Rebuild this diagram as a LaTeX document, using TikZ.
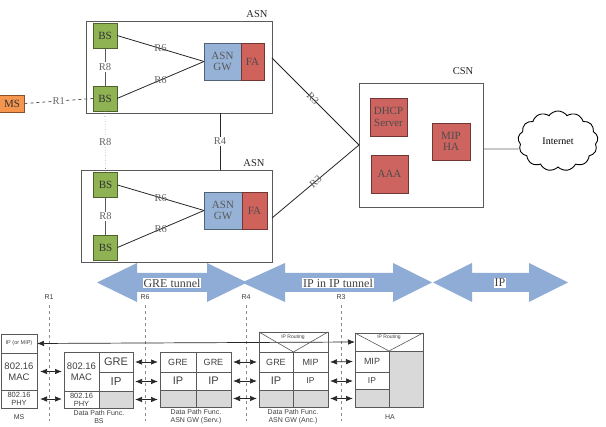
\documentclass[tikz,border=0pt]{standalone}
\usepackage{fontspec}
\setmainfont{Liberation Serif}
\newfontfamily\arialf{Liberation Sans}
\usetikzlibrary{shapes.symbols,arrows.meta,calc}
\definecolor{bsg}{RGB}{143,178,82}
\definecolor{gwb}{RGB}{150,178,214}
\definecolor{far}{RGB}{208,98,92}
\definecolor{mso}{RGB}{246,150,78}
\definecolor{csr}{RGB}{205,100,95}
\definecolor{arrb}{RGB}{143,172,214}
\definecolor{cellg}{RGB}{217,217,217}
\begin{document}
\begin{tikzpicture}[x=1pt,y=-1pt,
  every node/.style={inner sep=0pt, outer sep=0pt},
  box/.style={draw=#1!55!black, fill=#1, line width=0.7pt, align=center,
     font=\fontsize{11}{11.5}\selectfont, text=black!80},
  asnbox/.style={draw=black!65, line width=0.8pt, anchor=north west},
  conn/.style={line width=0.8pt, draw=black!85},
  lbl/.style={font=\fontsize{10.5}{11}\selectfont, text=black!60},
  wlbl/.style={lbl, fill=white, inner sep=1pt},
  cell/.style={draw=black!65, line width=0.6pt, anchor=north west, align=center,
     font=\arialf\fontsize{9}{10}\selectfont, text=black!75},
  gcell/.style={cell, fill=cellg},
  sl/.style={font=\arialf\fontsize{7}{8}\selectfont, text=black!75, align=center},
  refl/.style={draw=black!45, dashed, line width=0.6pt},
  small/.style={{Latex[length=7pt,width=5.5pt]}-{Latex[length=7pt,width=5.5pt]}, line width=0.7pt, draw=black!85},
  bigtxt/.style={fill=white, inner sep=1pt, font=\fontsize{12}{13}\selectfont, text=black!75}
]
\useasboundingbox (0,0) rectangle (606,427);
\fill[white] (0,0) rectangle (606,427);

% ---------- big arrows ----------
\fill[arrb] (97,282.5) -- (137,263) -- (137,273) -- (207,273) -- (207,263) -- (247,282.5)
  -- (207,302) -- (207,292) -- (137,292) -- (137,302) -- cycle;
\fill[arrb] (242,282.5) -- (285,263) -- (285,273) -- (393,273) -- (393,263) -- (432,282.5)
  -- (393,302) -- (393,292) -- (285,292) -- (285,302) -- cycle;
\fill[arrb] (433,282.5) -- (472,263) -- (472,273) -- (529,273) -- (529,263) -- (568,282.5)
  -- (529,302) -- (529,292) -- (472,292) -- (472,302) -- cycle;
\node[bigtxt] (gre) at (172,283) {GRE tunnel};
\node[bigtxt] (ipip) at (338,283) {IP in IP tunnel};
\node[bigtxt] (iptxt) at (500,283) {IP};

% ---------- ASN boxes ----------
\node[asnbox, minimum width=186pt, minimum height=92pt] (asn1) at (86,21) {};
\node[lbl, text=black!85] (asn1l) at (257,14) {ASN};
\node[asnbox, minimum width=191pt, minimum height=92pt] (asn2) at (81,170) {};
\node[lbl, text=black!85] (asn2l) at (254,163) {ASN};

\node[box=bsg, minimum width=24pt, minimum height=25pt] (bs1) at (105,35.5) {BS};
\node[box=bsg, minimum width=24pt, minimum height=25pt] (bs2) at (105,98.5) {BS};
\node[box=bsg, minimum width=24pt, minimum height=25pt] (bs3) at (105.5,185) {BS};
\node[box=bsg, minimum width=24pt, minimum height=25pt] (bs4) at (105.5,247.5) {BS};

\node[box=gwb, minimum width=37pt, minimum height=37pt, text=black!65] (gw1) at (222.5,61.5) {ASN\\GW};
\node[box=far, minimum width=23pt, minimum height=37pt, text=black!70] (fa1) at (252.5,61.5) {FA};
\node[box=gwb, minimum width=38pt, minimum height=37pt, text=black!65] (gw2) at (223,210.5) {ASN\\GW};
\node[box=far, minimum width=25pt, minimum height=37pt, text=black!70] (fa2) at (254.5,210.5) {FA};

\node[box=mso, minimum width=25pt, minimum height=17pt] (ms) at (12,103.5) {MS};

% ---------- CSN ----------
\node[asnbox, minimum width=124pt, minimum height=124pt] (csn) at (359,83) {};
\node[lbl, text=black!85] (csnl) at (463,71) {CSN};
\node[box=csr, minimum width=37pt, minimum height=38pt, text=black!70] (dhcp) at (388.5,117) {DHCP\\Server};
\node[box=csr, minimum width=37pt, minimum height=38pt, text=black!70] (aaa) at (389.5,174) {AAA};
\node[box=csr, minimum width=38pt, minimum height=37pt, text=black!70] (mip) at (451,141.5) {MIP\\HA};
\node[cloud, draw=black, line width=0.9pt, cloud puffs=13, cloud puff arc=110, aspect=1.4,
  minimum width=80pt, minimum height=60pt, font=\fontsize{10}{11}\selectfont] (inet) at (558,141) {Internet};

% ---------- top connectors ----------
\draw[conn] (bs1.east) -- node[lbl]{R6} (gw1.west);
\draw[conn] (bs2.east) -- node[lbl]{R6} (gw1.west);
\draw[conn] (bs3.east) -- node[lbl]{R6} (gw2.west);
\draw[conn] (bs4.east) -- node[lbl]{R6} (gw2.west);
\draw[conn, draw=black!65] (bs1.south) -- node[wlbl]{R8} (bs2.north);
\draw[conn, draw=black!65] (bs3.south) -- node[wlbl]{R8} (bs4.north);
\draw[conn, dashed, draw=black!65] (ms.east) -- node[wlbl]{R1} (bs2.west);
\draw[line width=0.6pt, dotted, draw=black!45] (bs2.south) -- node[wlbl]{R8} (bs3.north);
\coordinate (r4x) at (220,0);
\draw[conn] (asn1.south -| r4x) -- node[wlbl]{R4} (asn2.north -| r4x);
\draw[conn] ([yshift=9pt]asn1.east) -- node[lbl, sloped, pos=0.47]{R3} (csn.west);
\draw[conn] ([yshift=-2pt]asn2.east) -- node[lbl, sloped, pos=0.5]{R3} (csn.west);
\draw[line width=0.7pt, draw=black!60] ([yshift=-4pt]csn.east) -- ([yshift=-8pt]inet.west);

% ---------- reference lines ----------
\node[sl] (r1) at (49,297) {R1};
\node[sl] (r6) at (145,297) {R6};
\node[sl] (r4) at (246,297) {R4};
\node[sl] (r3) at (341,297) {R3};
\coordinate (r1e) at (49,421);
\coordinate (r6e) at (145,421);
\coordinate (r4e) at (246,421);
\coordinate (r3e) at (341,421);
\draw[refl] ([yshift=-6pt]r1.south) -- (r1e);
\draw[refl] ([yshift=-6pt]r6.south) -- (r6e);
\draw[refl] ([yshift=-6pt]r4.south) -- (r4e);
\draw[refl] ([yshift=-6pt]r3.south) -- (r3e);

% ---------- MS stack ----------
\node[cell, minimum width=36pt, minimum height=19pt, font=\arialf\fontsize{5.5}{6}\selectfont] (msip) at (1,334) {IP (or MIP)};
\node[cell, minimum width=36pt, minimum height=37pt, font=\arialf\fontsize{9.5}{11}\selectfont] (msmac) at (1,353) {802.16\\MAC};
\node[cell, minimum width=36pt, minimum height=18pt, font=\arialf\fontsize{7.5}{8}\selectfont] (msphy) at (1,390) {802.16\\PHY};
\node[sl] (msl) at (19,417) {MS};

% ---------- BS stack ----------
\node[cell, minimum width=35pt, minimum height=39pt, font=\arialf\fontsize{9.5}{11}\selectfont] (bsmac) at (64,352) {802.16\\MAC};
\node[cell, minimum width=35pt, minimum height=17pt, font=\arialf\fontsize{7.5}{8}\selectfont] (bsphy) at (64,391) {802.16\\PHY};
\node[cell, minimum width=34pt, minimum height=20pt, font=\arialf\fontsize{11}{12}\selectfont] (bsgre) at (99,352) {GRE};
\node[cell, minimum width=34pt, minimum height=19pt, font=\arialf\fontsize{11.5}{12}\selectfont] (bsip) at (99,372) {IP};
\node[gcell, minimum width=34pt, minimum height=17pt] (bsg) at (99,391) {};
\node[sl] (bsl) at (99,417) {Data Path Func.\\BS};

% ---------- ASN GW (Serv.) ----------
\node[cell, minimum width=36pt, minimum height=20pt] (sgre1) at (160,352) {GRE};
\node[cell, minimum width=35pt, minimum height=20pt] (sgre2) at (196,352) {GRE};
\node[cell, minimum width=36pt, minimum height=18pt, font=\arialf\fontsize{11}{12}\selectfont] (sip1) at (160,372) {IP};
\node[cell, minimum width=35pt, minimum height=18pt, font=\arialf\fontsize{11}{12}\selectfont] (sip2) at (196,372) {IP};
\node[gcell, minimum width=36pt, minimum height=17pt] (sg1) at (160,390) {};
\node[gcell, minimum width=35pt, minimum height=17pt] (sg2) at (196,390) {};
\node[sl] (sl) at (196,417) {Data Path Func.\\ASN GW (Serv.)};

% ---------- long arrow ----------
\draw[small] (msip.east) -- (355,342);

% ---------- ASN GW (Anc.) ----------
\node[cell, minimum width=69pt, minimum height=20pt] (aroute) at (259,332) {};
\draw[draw=black!65, line width=0.6pt] (aroute.north west) -- (aroute.south) -- (aroute.north east);
\node[sl, font=\arialf\fontsize{5}{6}\selectfont] (arl) at (293,337) {IP Routing};
\node[cell, minimum width=34pt, minimum height=20pt] (agre) at (259,352) {GRE};
\node[cell, minimum width=35pt, minimum height=20pt] (amip) at (293,352) {MIP};
\node[cell, minimum width=34pt, minimum height=18pt, font=\arialf\fontsize{11}{12}\selectfont] (aip1) at (259,372) {IP};
\node[cell, minimum width=35pt, minimum height=18pt, font=\arialf\fontsize{8.5}{9}\selectfont] (aip2) at (293,372) {IP};
\node[gcell, minimum width=34pt, minimum height=17pt] (ag1) at (259,390) {};
\node[gcell, minimum width=35pt, minimum height=17pt] (ag2) at (293,390) {};
\node[sl] (al) at (293,417) {Data Path Func.\\ASN GW (Anc.)};

% ---------- HA ----------
\node[cell, minimum width=68pt, minimum height=18pt] (hroute) at (355,333) {};
\draw[draw=black!65, line width=0.6pt] (hroute.north west) -- (hroute.south) -- (hroute.north east);
\node[sl, font=\arialf\fontsize{5}{6}\selectfont] (hrl) at (389,337.5) {IP Routing};
\node[cell, minimum width=34pt, minimum height=21pt] (hmip) at (355,351) {MIP};
\node[cell, minimum width=34pt, minimum height=17pt, font=\arialf\fontsize{8.5}{9}\selectfont] (hip) at (355,372) {IP};
\node[gcell, minimum width=34pt, minimum height=18pt] (hg1) at (355,389) {};
\node[gcell, minimum width=34pt, minimum height=56pt] (hg2) at (389,351) {};
\node[sl] (hl) at (390,417) {HA};

% ---------- small arrows ----------
\draw[small] ([xshift=3pt]msmac.east) -- ([xshift=-2pt]bsmac.west |- msmac.east);
\draw[small] ([xshift=3pt]msphy.east) -- ([xshift=-2pt]bsphy.west |- msphy.east);
\draw[small] ([xshift=2pt]bsgre.east) -- ([xshift=-2pt]sgre1.west);
\draw[small] ([xshift=2pt]bsip.east) -- ([xshift=-2pt]sip1.west |- bsip.east);
\draw[small] ([xshift=2pt]bsg.east) -- ([xshift=-2pt]sg1.west |- bsg.east);
\draw[small] ([xshift=2pt]sgre2.east) -- ([xshift=-2pt]agre.west);
\draw[small] ([xshift=2pt]sip2.east) -- ([xshift=-2pt]aip1.west);
\draw[small] ([xshift=2pt]sg2.east) -- ([xshift=-2pt]ag1.west);
\draw[small] ([xshift=2pt]amip.east) -- ([xshift=-2pt]hmip.west -| hmip.west);
\draw[small] ([xshift=2pt]aip2.east) -- ([xshift=-2pt]hip.west |- aip2.east);
\draw[small] ([xshift=2pt]ag2.east) -- ([xshift=-2pt]hg1.west |- ag2.east);
\end{tikzpicture}
\end{document}
